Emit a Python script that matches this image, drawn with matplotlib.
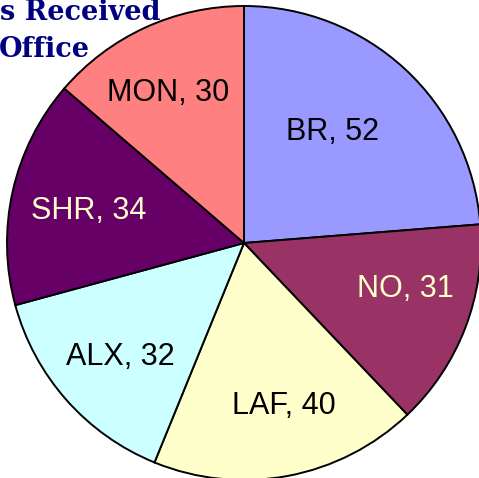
import numpy as np
import matplotlib.pyplot as plt

# Cases per office
offices = ['BR', 'NO', 'LAF', 'ALX', 'SHR', 'MON']
cases = [52, 31, 40, 32, 34, 30]

colors = ['#9999FF', '#993366', '#FFFFCC', '#CCFFFF', '#660066', '#FF8080']
text_colors = ['black', '#FFFFCC', 'black', 'black', '#FFFFCC', 'black']
label_dist = [0.60, 0.71, 0.71, 0.71, 0.67, 0.71]
label_shift = [4, 5, 3, 1, 1, 2]  # degrees, label nudges

W, H = 479, 478
fig = plt.figure(figsize=(W / 100, H / 100), dpi=100)
ax = fig.add_axes([0, 0, 1, 1])

labels = [f'{o}, {c}' for o, c in zip(offices, cases)]
wedges, texts = ax.pie(cases, labels=labels, colors=colors, startangle=90,
                       counterclock=False, labeldistance=0.7,
                       wedgeprops=dict(edgecolor='black', linewidth=1.4),
                       textprops=dict(family='Liberation Sans', fontsize=22))

# move labels to per-slice radii
for w, t, d, s, tc in zip(wedges, texts, label_dist, label_shift, text_colors):
    ang = np.deg2rad((w.theta1 + w.theta2) / 2 + s)
    t.set_position((d * np.cos(ang), d * np.sin(ang)))
    t.set_ha('center')
    t.set_va('center')
    t.set_color(tc)

# pie centre at (244, 243) px, radius 237 px
cx, cy, r = 244, 243, 237
ax.set_aspect('auto')
ax.set_xlim(-cx / r, (W - cx) / r)
ax.set_ylim(-(H - cy) / r, cy / r)
ax.axis('off')

# visible part of the title
fig.text(0 / W, 1 - 20 / H, 's Received', ha='left', va='baseline',
         family='DejaVu Serif', weight='bold', fontsize=19.5, color='#000080')
fig.text(-1 / W, 1 - 57 / H, 'Office', ha='left', va='baseline',
         family='DejaVu Serif', weight='bold', fontsize=19.5, color='#000080')

fig.savefig('out.png', dpi=100)
